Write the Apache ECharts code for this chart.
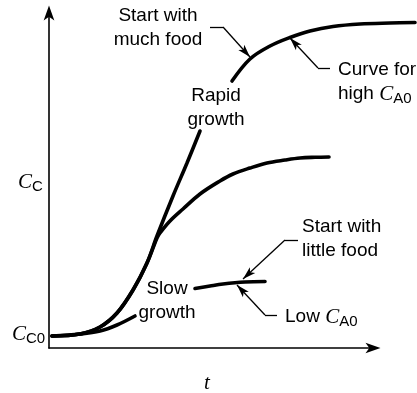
<!DOCTYPE html>
<html>
<head>
<meta charset="utf-8">
<script src="https://cdn.jsdelivr.net/npm/echarts@6/dist/echarts.min.js"></script>
<style>
  html, body { margin: 0; padding: 0; background: #fff; }
  #chart { width: 417px; height: 393px; }
</style>
</head>
<body>
<div id="chart"></div>
<script>
// Cell concentration C_C against time t, for different starting food levels.
// Each curve is a list of [t, C_C] pairs; gaps leave room for the labels.

// High C_A0: lag, then rapid growth (lower part) ...
const highRise = [[0.093,0.359],[0.958,0.419],[1.577,0.628],[2.102,1.046],[2.597,1.734],[3.029,2.541],[3.338,3.348],[3.833,4.544],[4.266,5.531],[4.668,6.487]];
// ... and levelling off (upper part), running on past the end of the t axis
const highPlateau = [[5.657,7.982],[6.213,8.640],[6.832,9.028],[7.450,9.283],[8.068,9.477],[8.779,9.611],[9.614,9.686],[10.541,9.716],[11.314,9.731]];
// Intermediate C_A0
const midCurve = [[0.093,0.359],[0.958,0.419],[1.577,0.628],[2.102,1.046],[2.597,1.734],[3.029,2.541],[3.338,3.288],[3.431,3.438],[3.740,3.797],[4.142,4.155],[4.668,4.604],[5.286,4.993],[5.688,5.202],[6.213,5.381],[6.739,5.531],[7.295,5.620],[7.759,5.680],[8.223,5.701],[8.655,5.710]];
// Low C_A0: slow growth, split around the "Slow growth" label
const lowRise = [[0.093,0.359],[0.958,0.419],[1.577,0.508],[2.102,0.688],[2.658,0.957]];
const lowPlateau = [[4.513,1.779],[4.977,1.854],[5.379,1.913],[6.059,1.973],[6.677,1.988]];

// Leader lines: elbow point list, arrow at the last point
const leaderMuchFood = [[4.977,9.596],[5.379,9.596],[6.213,8.700]];
const leaderHighCurve = [[8.686,8.371],[8.315,8.371],[7.450,9.268]];
const leaderLittleFood = [[7.697,3.229],[7.295,3.229],[5.997,2.063]];
const leaderLowCurve = [[7.048,0.987],[6.677,0.987],[5.811,1.883]];

// Text annotations: anchor [t, C_C], alignment, and lines of [text, style] pieces
const annotations = [
  { at: [3.369, 9.566], align: 'center', lines: [[['Start with','body']], [['much food','body']]] },
  { at: [5.162, 7.175], align: 'center', lines: [[['Rapid','body']], [['growth','body']]] },
  { at: [8.934, 7.952], align: 'left',   lines: [[['Curve for','body']], [['high ','body'],['C','sym'],['A0','sub']]] },
  { at: [7.821, 3.259], align: 'left',   lines: [[['Start with','body']], [['little food','body']]] },
  { at: [7.295, 0.927], align: 'left',   lines: [[['Low ','body'],['C','sym'],['A0','sub']]] },
  { at: [3.648, 1.405], align: 'center', lines: [[['Slow','body']], [['growth','body']]] },
  { at: [-0.958, 4.963], align: 'left',  lines: [[['C','sym'],['C','sub']]] },
  { at: [-1.144, 0.419], align: 'left',  lines: [[['C','sym'],['C0','sub']]] },
  { at: [4.884, -1.046], align: 'center', lines: [[['t','sym']]] }
];

const SANS = '"Liberation Sans", Arial, Helvetica, sans-serif';
const SERIF = '"Liberation Serif", "Times New Roman", serif';
const textStyles = {
  body: { font: '19px ' + SANS, dy: 0 },
  sym:  { font: 'italic 21px ' + SERIF, dy: 0 },
  sub:  { font: '15px ' + SANS, dy: 5 }
};
const LINE_HEIGHT = 24;

// Layout: the visible axes live on grid 0; the curves are drawn on grid 1,
// which has the same scale but reaches the right edge so nothing is cut off.
const CHART_W = 417;
const GRID_LEFT = 49, GRID_RIGHT = 44.5, GRID_TOP = 13.5, GRID_BOTTOM = 45;
const T_MAX = 10, C_MAX = 10;
const T_MAX_WIDE = T_MAX * (CHART_W - GRID_LEFT) / (CHART_W - GRID_LEFT - GRID_RIGHT);

const chart = echarts.init(document.getElementById('chart'), null, { renderer: 'canvas' });

function curve(data, width) {
  return {
    type: 'line', xAxisIndex: 1, yAxisIndex: 1,
    data: data, showSymbol: false, symbol: 'none',
    smooth: 0.35, clip: false, silent: true,
    lineStyle: { color: '#000', width: width, cap: 'round' }
  };
}

function leader(points) {
  const segs = [];
  for (let i = 0; i < points.length - 1; i++) {
    const last = i === points.length - 2;
    segs.push([
      { coord: points[i], symbol: 'none' },
      { coord: points[i + 1], symbol: last ? 'arrow' : 'none', symbolSize: [6, 13] }
    ]);
  }
  return {
    type: 'line', xAxisIndex: 1, yAxisIndex: 1, data: [], silent: true,
    markLine: {
      silent: true, animation: false, symbol: 'none',
      label: { show: false }, emphasis: { disabled: true },
      lineStyle: { color: '#000', width: 1.3, type: 'solid' },
      itemStyle: { color: '#000' },
      data: segs
    }
  };
}

const axisLine = {
  show: true, symbol: ['none', 'arrow'], symbolSize: [8, 15], symbolOffset: [0, 8],
  lineStyle: { color: '#000', width: 1.6 }
};
const hidden = { show: false };

chart.setOption({
  animation: false,
  backgroundColor: '#fff',
  grid: [
    { left: GRID_LEFT, right: GRID_RIGHT, top: GRID_TOP, bottom: GRID_BOTTOM },
    { left: GRID_LEFT, right: 0, top: GRID_TOP, bottom: GRID_BOTTOM }
  ],
  xAxis: [
    { gridIndex: 0, type: 'value', min: 0, max: T_MAX, axisLine: axisLine,
      axisTick: hidden, axisLabel: hidden, splitLine: hidden },
    { gridIndex: 1, type: 'value', min: 0, max: T_MAX_WIDE, show: false }
  ],
  yAxis: [
    { gridIndex: 0, type: 'value', min: 0, max: C_MAX, axisLine: axisLine,
      axisTick: hidden, axisLabel: hidden, splitLine: hidden },
    { gridIndex: 1, type: 'value', min: 0, max: C_MAX, show: false }
  ],
  series: [
    curve(highRise, 3.6),
    curve(highPlateau, 3.6),
    curve(midCurve, 3.6),
    curve(lowRise, 3.6),
    curve(lowPlateau, 3.6),
    leader(leaderMuchFood),
    leader(leaderHighCurve),
    leader(leaderLittleFood),
    leader(leaderLowCurve)
  ]
});

// Lay out the annotation text, piece by piece, at the data anchors
const measure = document.createElement('canvas').getContext('2d');
function widthOf(str, font) { measure.font = font; return measure.measureText(str).width; }

const elements = [];
annotations.forEach(function (a) {
  const p = chart.convertToPixel({ gridIndex: 0 }, a.at);
  const n = a.lines.length;
  a.lines.forEach(function (line, i) {
    const y = p[1] - (n - 1) * LINE_HEIGHT / 2 + i * LINE_HEIGHT;
    const total = line.reduce(function (s, piece) { return s + widthOf(piece[0], textStyles[piece[1]].font); }, 0);
    let x = a.align === 'center' ? p[0] - total / 2 : p[0];
    line.forEach(function (piece) {
      const st = textStyles[piece[1]];
      elements.push({
        type: 'text', x: x, y: y + st.dy, silent: true,
        style: { text: piece[0], font: st.font, fill: '#000', align: 'left', verticalAlign: 'middle' }
      });
      x += widthOf(piece[0], st.font);
    });
  });
});
chart.setOption({ graphic: { elements: elements } });
</script>
</body>
</html>
